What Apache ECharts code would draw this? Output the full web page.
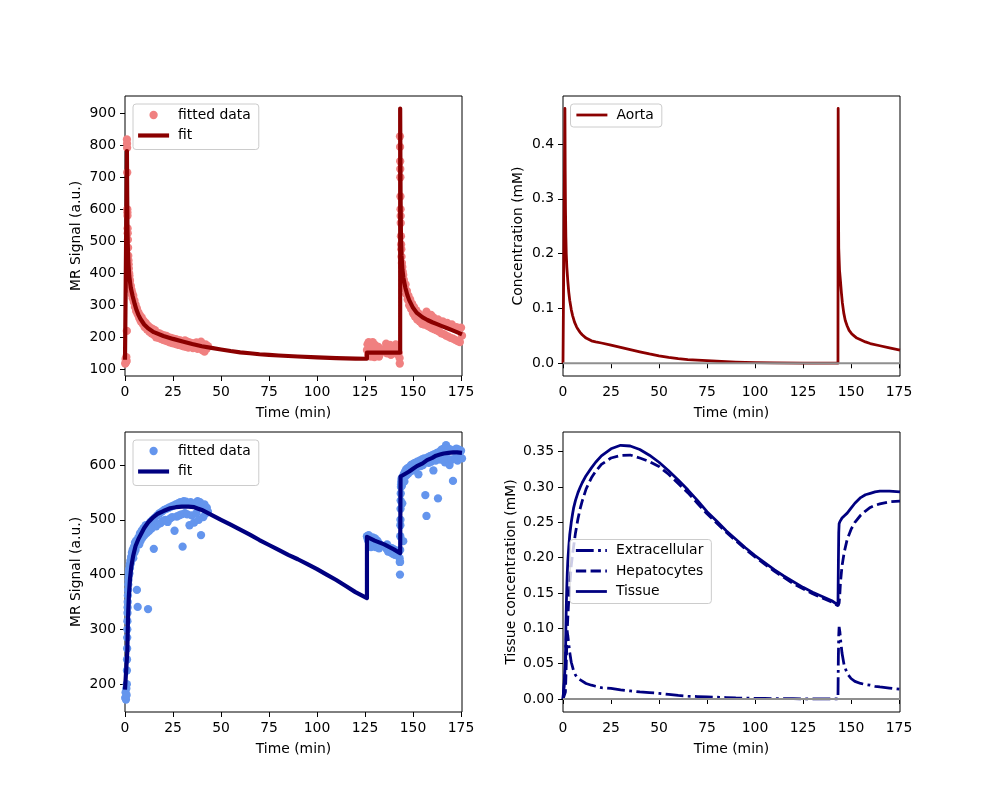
<!DOCTYPE html>
<html><head><meta charset="utf-8">
<script src="https://cdn.jsdelivr.net/npm/echarts@6/dist/echarts.min.js"></script>
<style>html,body{margin:0;padding:0;background:#fff}#c{width:1000px;height:800px}</style>
</head><body><div id="c"></div>
<script>
// ---------- tick labels ----------
const timeTicks = [0, 25, 50, 75, 100, 125, 150, 175];
const aortaSignalTicks = [100, 200, 300, 400, 500, 600, 700, 800, 900];
const aortaConcTicks = [0, 0.1, 0.2, 0.3, 0.4];
const liverSignalTicks = [200, 300, 400, 500, 600];
const tissueConcTicks = [0, 0.05, 0.10, 0.15, 0.20, 0.25, 0.30, 0.35];

// ---------- acquisition times (min) ----------
const timeBolus1 = [0.1,0.3,0.5,0.7,0.85,0.95,1.0,1.05,1.1,1.15,1.2,1.25,1.3,1.35,1.4,1.5,1.6,1.7,1.8,1.9,
  2.0,2.15,2.3,2.45,2.6,2.8,3.0,3.2,3.4,3.6,
  3.8,4.0,4.3,4.6,4.9,5.2,5.5,5.8,6.2,6.6,
  7.0,7.4,7.8,8.2,8.7,9.2,9.7,10.2,10.8,11.4,
  12.0,12.6,13.2,13.8,14.4,15.0,15.6,16.2,16.8,17.4,
  18.0,18.6,19.2,19.8,20.4,21.0,21.6,22.2,22.8,23.4,
  24.0,24.6,25.2,25.8,26.4,27.0,27.6,28.2,28.8,29.4,
  30.0,30.6,31.2,31.8,32.4,33.0,33.6,34.2,34.8,35.4,
  36.0,36.6,37.2,37.8,38.4,39.0,39.6,40.2,40.8,41.4,
  42.0,42.6,43.2];
const timeLate1 = [126.0,126.3,126.6,126.9,127.2,127.5,127.8,128.1,128.4,128.7,129.0,129.3,129.6,129.9,130.2,130.5,130.8,131.1,131.4,131.7,132.0,132.3,132.6,133.0];
const timeLate2 = [135.5,136,136.5,137,137.5,138,138.5,139,139.5,140,140.5,141,141.5,142,142.5,143.0,143.1];
const timeBolus2 = [143.2,143.25,143.3,143.35,143.4,143.45,143.5,143.55,143.6,143.7,
  143.8,143.9,144.0,144.2,144.4,144.6,144.9,145.2,145.5,145.8,
  146.1,146.4,146.8,147.2,147.6,148.0,148.5,149.0,149.5,150.0,
  150.5,151.0,151.6,152.2,152.8,153.4,154.0,154.6,155.2,155.8,
  156.4,157.0,157.6,158.2,158.8,159.4,160.0,160.6,161.2,161.8,
  162.4,163.0,163.6,164.2,164.8,165.4,166.0,166.6,167.2,167.8,
  168.4,169.0,169.6,170.2,170.8,171.4,172.0,172.6,173.2,173.8,
  174.4,175.0,175.5];

// ---------- aorta MR signal (fitted data) ----------
const aortaSignalBolus1 = [118,132,122,138,126,220,818,805,792,715,600,590,580,540,525,505,480,455,440,428,
  415,400,392,380,376,362,360,345,348,333,
  338,322,330,310,315,295,302,282,290,272,
  278,260,268,250,262,242,252,232,245,225,
  236,218,230,212,226,208,222,200,214,198,
  212,195,208,192,206,190,204,187,200,184,
  198,182,196,180,194,178,192,176,190,174,
  188,172,190,170,186,168,184,170,182,166,
  180,168,184,164,178,170,186,160,176,155,
  178,165,172];
const aortaSignalLate1 = [160,178,145,185,168,150,182,140,172,158,185,148,170,138,176,155,168,142,165,152,170,140,160,150];
const aortaSignalLate2 = [165,180,150,172,158,176,145,168,152,170,160,178,148,166,150,135,118];
const aortaSignalBolus2 = [828,795,750,726,700,640,600,579,557,516,
  490,475,452,432,420,405,395,380,368,352,
  365,335,345,318,330,300,318,288,305,275,
  295,265,285,255,275,250,268,242,262,240,
  258,280,236,252,232,270,228,262,225,248,
  222,256,218,244,212,250,210,240,205,245,
  202,235,198,240,196,228,192,232,188,225,
  185,230,205];

// ---------- liver MR signal (fitted data) ----------
const liverSignalBolus1 = [175,185,172,192,180,200,225,245,265,285,300,315,330,340,350,362,372,382,390,398,
  405,410,402,418,412,425,420,432,428,440,
  436,445,430,450,440,458,445,462,372,341,
  468,455,475,462,480,468,485,472,490,476,
  337,480,496,484,500,447,504,488,508,492,
  512,494,515,498,518,500,520,496,522,502,
  524,505,526,480,528,506,530,508,532,510,
  451,534,512,533,510,530,490,532,508,528,
  495,530,512,534,500,532,472,526,505,528,
  512,522,515];
const liverSignalLate1 = [470,466,462,472,455,468,460,450,465,458,468,452,463,456,466,450,460,455,462,450,458,448,455,452];
const liverSignalLate2 = [452,448,455,442,450,446,440,448,438,446,436,444,440,436,442,430,423];
const liverSignalBolus2 = [400,423,445,470,490,500,520,535,548,560,
  565,570,575,562,530,578,461,583,570,588,
  580,592,582,594,585,596,588,600,590,602,
  592,604,594,606,583,608,598,610,600,612,
  545,507,614,604,616,606,618,590,620,608,
  622,539,624,610,628,612,630,605,636,612,
  630,600,628,610,571,626,612,630,608,628,
  615,626,612];

// ---------- aorta signal fit ----------
const aortaFitTime = [0,1.0,1.0,1.15,1.3,1.5,1.7,2.2,3,4,
  5,6,7,8,10,12,15,20,25,30,
  35,40,45,50,55,60,65,70,75,80,
  90,100,110,120,126,126,143.3,143.3,143.5,143.7,
  144,144.5,145,146,147,148,150,152,155,157.5,
  160,162.5,165,167.5,170,172.5,175.5];
const aortaFitSignal = [130,130,782,640,530,480,440,392,355,328,
  305,285,270,258,240,228,216,204,195,187,
  179,172,167,162,157,153,150,147,145,143,
  140,137,135,133.5,133,152,152,915,650,520,
  455,410,385,355,333,316,292,276,262,254,
  247,241,235,229,223,217,209];

// ---------- liver signal fit ----------
const liverFitTime = [0,1.0,1.2,1.5,1.7,2,2.6,3.3,4.3,5.5,
  7,8.5,10,12,14.8,17,20,23.5,26.5,29.6,
  33,36,40,45,50,55,60,65,70,75,
  80,85,90,95,100,105,110,115,120,126,
  126,130,135,140,143.3,143.5,146,148,150,152,
  155,157.3,160,162,164,166,168.5,171,173,175.5];
const liverFitSignal = [190,190,260,310,335,360,392,415,435,452,
  465,475,485,495,505,511,516,521,523,524,
  524,523,518,509,500,491,482,473,463,454,
  445,436,428,419,410,400,390,379,368,357,
  469,462,455,446,439,579,584,588,593,598,
  603,609,613,617,619,621,622,623,623,622];

// ---------- aorta concentration ----------
const aortaConcTime = [0,0.9,1.0,1.15,1.3,1.5,1.7,2.0,2.5,3.0,
  3.5,4.3,5.0,6,7,7.8,9,10,12,14.8,
  17,20,25,30,35,40,45,50,55,60,
  65,70,75,80,90,100,110,125,143.2,143.3,
  143.45,143.6,144,144.5,145,145.5,146.2,147,148,149,
  150.3,151.6,153,155,157.5,160,165,170,175.5];
const aortaConc = [0,0,0.465,0.35,0.28,0.23,0.20,0.175,0.15,0.13,
  0.115,0.098,0.087,0.075,0.067,0.062,0.056,0.052,0.046,0.041,
  0.039,0.037,0.033,0.029,0.025,0.021,0.017,0.0135,0.0108,0.0085,
  0.0068,0.0057,0.0048,0.0037,0.0022,0.0012,0.0007,0.0003,0.0001,0.465,
  0.30,0.21,0.17,0.15,0.128,0.11,0.092,0.078,0.068,0.06,
  0.054,0.05,0.046,0.043,0.039,0.036,0.032,0.028,0.024];

// ---------- tissue concentrations ----------
const tissueTime = [0,1.0,1.25,1.5,1.75,2,2.25,2.5,3,3.5,
  4.3,5,5.5,6.5,7.8,9,10,12,14.8,17,
  20,25,30,35,40,45,50,55,60,65,
  70,75,80,85,90,95,100,105,110,115,
  120,125,130,135,140,143.2,143.4,143.6,143.8,144.2,
  144.5,145.3,146.4,148,150,152,155,157.5,160,162.5,
  165,170,175.5];
const extracellularConc = [0,0,0.04,0.075,0.09,0.095,0.094,0.09,0.078,0.066,
  0.052,0.045,0.04,0.034,0.029,0.027,0.025,0.022,0.0195,0.018,
  0.016,0.015,0.013,0.0115,0.010,0.009,0.008,0.0065,0.005,0.004,
  0.0035,0.003,0.0025,0.002,0.0015,0.0012,0.001,0.0008,0.0006,0.0005,
  0.0004,0.0003,0.0002,0.0001,0.0001,0.0001,0.06,0.09,0.102,0.095,
  0.085,0.065,0.048,0.036,0.029,0.025,0.022,0.0205,0.0195,0.018,
  0.017,0.0155,0.0137];
const hepatocyteConc = [0,0,0.01,0.03,0.055,0.08,0.1,0.115,0.14,0.16,
  0.189,0.205,0.215,0.235,0.255,0.27,0.28,0.297,0.313,0.322,
  0.332,0.341,0.3445,0.3452,0.341,0.336,0.329,0.318,0.305,0.292,
  0.277,0.262,0.249,0.236,0.224,0.212,0.201,0.191,0.181,0.172,
  0.163,0.156,0.149,0.143,0.137,0.132,0.132,0.133,0.136,0.15,
  0.165,0.188,0.207,0.226,0.24,0.25,0.26,0.266,0.271,0.274,
  0.276,0.279,0.28];
const tissueConc = [0,0,0.05,0.1,0.135,0.16,0.18,0.195,0.215,0.232,
  0.25,0.262,0.27,0.281,0.292,0.3,0.306,0.316,0.327,0.335,
  0.344,0.354,0.359,0.358,0.353,0.345,0.335,0.323,0.31,0.296,
  0.281,0.265,0.252,0.238,0.226,0.214,0.203,0.193,0.183,0.174,
  0.166,0.158,0.151,0.145,0.139,0.133,0.19,0.235,0.248,0.251,
  0.253,0.256,0.259,0.263,0.27,0.277,0.285,0.289,0.291,0.293,
  0.294,0.294,0.293];

// ---------- build ----------
const FONT = 'DejaVu Sans';
const FS = 13.9;
const zip = (t, v) => t.map((x, i) => [x, v[i]]);
const cat = (...a) => [].concat(...a);
const labels = {aortaData:'fitted data', aortaFit:'fit', aorta:'Aorta', liverData:'fitted data', liverFit:'fit',
  ec:'Extracellular', hep:'Hepatocytes', tis:'Tissue'};
const allTime = cat(timeBolus1, timeLate1, timeLate2, timeBolus2);

const gridPos = [[125,96],[563,96],[125,432],[563,432]];
const grid = gridPos.map(p => ({left:p[0], top:p[1], width:337, height:280, show:true, borderColor:'#000', borderWidth:1, backgroundColor:'transparent'}));

const txt = {color:'#000', fontSize:FS, fontFamily:FONT};
function xAx(i){
  return {type:'value', gridIndex:i, min:0, max:175.5, name:'Time (min)', nameLocation:'middle', nameGap:30,
    nameTextStyle:txt, axisLine:{show:false},
    axisTick:{show:true, length:5, inside:false, customValues:timeTicks, lineStyle:{color:'#000', width:1}},
    axisLabel:Object.assign({customValues:timeTicks, margin:9}, txt), splitLine:{show:false}};
}
function yAx(i, min, max, ticks, name, gap, dec){
  return {type:'value', gridIndex:i, min:min, max:max, name:name, nameLocation:'middle', nameGap:gap,
    nameTextStyle:txt, axisLine:{show:false},
    axisTick:{show:true, length:5, inside:false, customValues:ticks, lineStyle:{color:'#000', width:1}},
    axisLabel:Object.assign({customValues:ticks, margin:9, formatter: v => dec == null ? String(v) : Number(v).toFixed(dec)}, txt),
    splitLine:{show:false}};
}

const legendCommon = {orient:'vertical', itemWidth:31, itemHeight:8.3, itemGap:6.5, padding:[4,8,7,3],
  borderColor:'#cccccc', borderWidth:1, borderRadius:3, backgroundColor:'rgba(255,255,255,0.8)',
  textStyle:Object.assign({padding:[0,0,0,4]}, txt), formatter: n => labels[n], selectedMode:false};
const lineItem = (name, w) => ({name:name, itemStyle:{opacity:0}, lineStyle:{width:w}});

const gray = {color:'#8f8f8f', width:2};

const option = {
  animation:false,
  backgroundColor:'#fff',
  grid: grid,
  xAxis: [xAx(0), xAx(1), xAx(2), xAx(3)],
  yAxis: [
    yAx(0, 79, 954, aortaSignalTicks, 'MR Signal (a.u.)', 42, null),
    yAx(1, -0.0232, 0.4877, aortaConcTicks, 'Concentration (mM)', 38, 1),
    yAx(2, 149.2, 660.2, liverSignalTicks, 'MR Signal (a.u.)', 42, null),
    yAx(3, -0.0184, 0.3778, tissueConcTicks, 'Tissue concentration (mM)', 45, 2)
  ],
  legend: [
    Object.assign({left:133, top:104, data:[{name:'aortaData', icon:'circle'}, lineItem('aortaFit', 4.17)]}, legendCommon),
    Object.assign({left:570.5, top:104, data:[lineItem('aorta', 2.78)]}, legendCommon, {padding:[4,8,5,4.5]}),
    Object.assign({left:133, top:440, data:[{name:'liverData', icon:'circle'}, lineItem('liverFit', 4.17)]}, legendCommon),
    Object.assign({left:570, top:539.5, data:[lineItem('ec', 2.78), lineItem('hep', 2.78), lineItem('tis', 2.78)]}, legendCommon, {padding:[4,8,5,4.5]})
  ],
  series: [
    {name:'aortaData', type:'scatter', xAxisIndex:0, yAxisIndex:0, symbol:'circle', symbolSize:8.3,
      itemStyle:{color:'#F08080', opacity:1}, data: zip(allTime, cat(aortaSignalBolus1, aortaSignalLate1, aortaSignalLate2, aortaSignalBolus2))},
    {name:'aortaFit', type:'line', xAxisIndex:0, yAxisIndex:0, symbol:'none', showSymbol:false,
      lineStyle:{color:'#8B0000', width:4.17, join:'round'}, itemStyle:{color:'#8B0000'}, data: zip(aortaFitTime, aortaFitSignal)},
    {name:'aorta', type:'line', xAxisIndex:1, yAxisIndex:1, symbol:'none', showSymbol:false,
      lineStyle:{color:'#8B0000', width:2.78, join:'round'}, itemStyle:{color:'#8B0000'}, data: zip(aortaConcTime, aortaConc)},
    {name:'zero1', type:'line', xAxisIndex:1, yAxisIndex:1, symbol:'none', showSymbol:false, silent:true,
      lineStyle:gray, data: [[0,0],[175.5,0]]},
    {name:'liverData', type:'scatter', xAxisIndex:2, yAxisIndex:2, symbol:'circle', symbolSize:8.3,
      itemStyle:{color:'#6495ED', opacity:1}, data: zip(allTime, cat(liverSignalBolus1, liverSignalLate1, liverSignalLate2, liverSignalBolus2))},
    {name:'liverFit', type:'line', xAxisIndex:2, yAxisIndex:2, symbol:'none', showSymbol:false,
      lineStyle:{color:'#000080', width:4.17, join:'round'}, itemStyle:{color:'#000080'}, data: zip(liverFitTime, liverFitSignal)},
    {name:'ec', type:'line', xAxisIndex:3, yAxisIndex:3, symbol:'none', showSymbol:false,
      lineStyle:{color:'#000080', width:2.78, type:[17.8,4.4,2.8,4.4]}, itemStyle:{color:'#000080'}, data: zip(tissueTime, extracellularConc)},
    {name:'hep', type:'line', xAxisIndex:3, yAxisIndex:3, symbol:'none', showSymbol:false,
      lineStyle:{color:'#000080', width:2.78, type:[10.3,4.4]}, itemStyle:{color:'#000080'}, data: zip(tissueTime, hepatocyteConc)},
    {name:'tis', type:'line', xAxisIndex:3, yAxisIndex:3, symbol:'none', showSymbol:false,
      lineStyle:{color:'#000080', width:2.78, join:'round'}, itemStyle:{color:'#000080'}, data: zip(tissueTime, tissueConc)},
    {name:'zero2', type:'line', xAxisIndex:3, yAxisIndex:3, symbol:'none', showSymbol:false, silent:true,
      lineStyle:gray, data: [[0,0],[175.5,0]]}
  ]
};
const chart = echarts.init(document.getElementById('c'), null, {renderer:'canvas'});
chart.setOption(option);
</script></body></html>
